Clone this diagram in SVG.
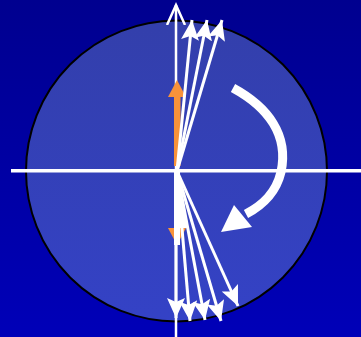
<svg xmlns="http://www.w3.org/2000/svg" width="361" height="337" viewBox="0 0 361 337">
<defs>
<linearGradient id="bg" x1="0" y1="0" x2="0" y2="1">
<stop offset="0" stop-color="#00008f"/>
<stop offset="1" stop-color="#0000b8"/>
</linearGradient>
<linearGradient id="disc" x1="0" y1="0" x2="0" y2="1">
<stop offset="0" stop-color="#333fab"/>
<stop offset="1" stop-color="#3442c6"/>
</linearGradient>
<marker id="head" markerUnits="userSpaceOnUse" markerWidth="22" markerHeight="18" refX="20" refY="9" orient="auto" viewBox="0 0 22 18">
<path d="M0,0 L20,9 L0,18 L4,9 Z" fill="#ffffff"/>
</marker>
<marker id="openhead" markerUnits="userSpaceOnUse" markerWidth="24" markerHeight="24" refX="20" refY="12" orient="auto" viewBox="0 0 24 24">
<path d="M0,3 L20,12 L0,21" fill="none" stroke="#ffffff" stroke-width="2.5" stroke-linejoin="miter"/>
</marker>
</defs>
<style>
.w{stroke:#ffffff;stroke-width:3;fill:none}
.axis{stroke:#ffffff;fill:none}
</style>
<rect id="background" x="0" y="0" width="361" height="337" fill="url(#bg)"/>
<g id="sphere">
<circle cx="176.5" cy="171" r="150.5" fill="url(#disc)" stroke="#000000" stroke-width="2"/>
</g>
<g id="axes">
<line class="axis" x1="11" y1="170.7" x2="361" y2="170.7" stroke-width="3.5"/>
<line class="axis" x1="176" y1="337" x2="176" y2="5" stroke-width="2.5" marker-end="url(#openhead)"/>
</g>
<g id="orange-vectors">
<rect x="174" y="96" width="6.5" height="70" fill="#f7923a"/>
<polygon points="168,97 186,97 177,80" fill="#f7923a"/>
<polygon points="168,228 186,228 177,245" fill="#f7923a"/>
</g>
<g id="connectors">
<line class="w" x1="177" y1="171" x2="192" y2="20" marker-end="url(#head)"/>
<line class="w" x1="177" y1="171" x2="207" y2="20" marker-end="url(#head)"/>
<line class="w" x1="177" y1="171" x2="222" y2="20" marker-end="url(#head)"/>
<rect x="174" y="171" width="6" height="74" fill="#ffffff"/>
<polygon points="175,171 179,171 188,228 174,228" fill="#ffffff"/>
<line class="w" x1="176" y1="240" x2="176" y2="318" marker-end="url(#head)"/>
<line class="w" x1="177" y1="171" x2="190" y2="321" marker-end="url(#head)"/>
<line class="w" x1="177" y1="171" x2="205" y2="320" marker-end="url(#head)"/>
<line class="w" x1="177" y1="171" x2="221" y2="321" marker-end="url(#head)"/>
<line class="w" x1="177" y1="171" x2="238" y2="306" marker-end="url(#head)"/>
<path d="M233,88 C268,107 289,135 281,172 C276,193 263,205 246,214" stroke="#ffffff" stroke-width="9" fill="none"/>
<polygon points="221,232 234,205 252,227" fill="#ffffff"/>
</g>
</svg>
